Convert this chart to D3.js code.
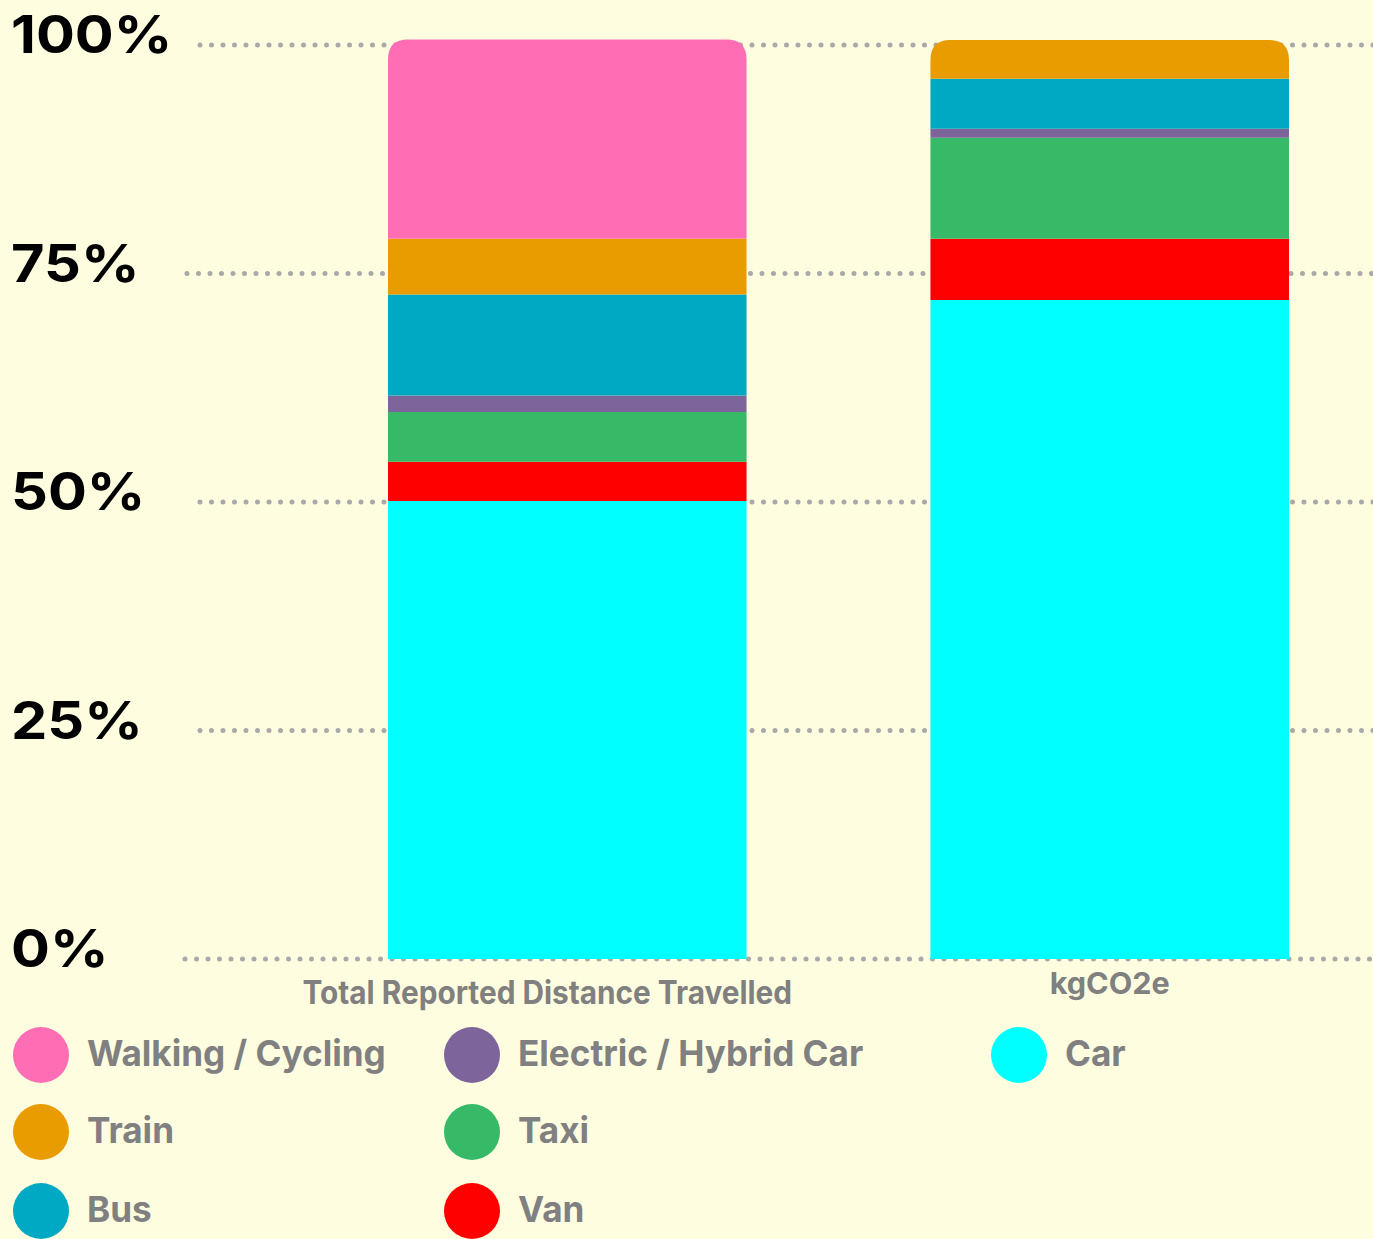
<!DOCTYPE html>
<html>
<head>
<meta charset="utf-8">
<script src="https://cdn.jsdelivr.net/npm/d3@7"></script>
<style>
  html, body { margin: 0; padding: 0; background: #FFFDE0; }
  svg { display: block; }
</style>
</head>
<body>
<svg id="chart" width="1373" height="1239"></svg>
<script>
// categories on the x axis
const categories = ["Total Reported Distance Travelled", "kgCO2e"];

// stack order, bottom to top
const seriesNames = ["Car", "Van", "Taxi", "Electric / Hybrid Car", "Bus", "Train", "Walking / Cycling"];

// percentage share of each mode, per category
const carValues      = [50.1, 72.1];
const vanValues      = [4.3, 6.7];
const taxiValues     = [5.45, 11.05];
const electricValues = [1.8, 1.0];
const busValues      = [11.05, 5.45];
const trainValues    = [6.1, 4.25];
const walkingValues  = [21.8, 0];

const yTicks = [0, 25, 50, 75, 100];

// legend order (column by column)
const legendOrder = ["Walking / Cycling", "Train", "Bus", "Electric / Hybrid Car", "Taxi", "Van", "Car"];

const colors = {
    "Car": "#00FFFF",
    "Van": "#FF0000",
    "Taxi": "#37BA67",
    "Electric / Hybrid Car": "#7D659C",
    "Bus": "#00A9C3",
    "Train": "#E99C00",
    "Walking / Cycling": "#FF6EB4"
};

const valuesBySeries = {
    "Car": carValues,
    "Van": vanValues,
    "Taxi": taxiValues,
    "Electric / Hybrid Car": electricValues,
    "Bus": busValues,
    "Train": trainValues,
    "Walking / Cycling": walkingValues
};

const data = categories.map((c, i) => {
    const row = { category: c };
    seriesNames.forEach(s => row[s] = valuesBySeries[s][i]);
    return row;
});

const svg = d3.select("#chart");
const W = 1373;

svg.append("rect").attr("width", W).attr("height", 1239).attr("fill", "#FFFDE0");

const y = d3.scaleLinear().domain([0, 100]).range([959, 45]);
const x = d3.scaleBand().domain(categories).range([388, 1289]).paddingInner(0.339).paddingOuter(0);

// dotted gridlines
const gridStart = { 0: 185, 25: 200, 50: 200, 75: 187, 100: 200 };
svg.append("g")
    .selectAll("line")
    .data(yTicks)
    .join("line")
    .attr("x1", d => gridStart[d])
    .attr("x2", W + 5)
    .attr("y1", d => y(d))
    .attr("y2", d => y(d))
    .attr("stroke", "#A9A9A9")
    .attr("stroke-width", 5)
    .attr("stroke-linecap", "round")
    .attr("stroke-dasharray", "0 11.5");

// y tick labels
svg.append("g")
    .selectAll("text")
    .data(yTicks)
    .join("text")
    .attr("transform", d => `translate(11,${y(d) + 8}) scale(1.11,1)`)
    .attr("font-family", "Inter, 'DejaVu Sans', sans-serif")
    .attr("font-weight", 700)
    .attr("font-size", 52)
    .attr("fill", "#000")
    .text(d => d + "%");

// stacked bars
const stacked = d3.stack().keys(seriesNames)(data);
const radius = 20;

// find top non-empty segment per category so it gets the rounded cap
const topKey = {};
data.forEach(row => {
    seriesNames.forEach(s => { if (row[s] > 0) topKey[row.category] = s; });
});

function segPath(x0, w, yTop, yBot, rounded) {
    if (!rounded) return `M${x0},${yBot}V${yTop}H${x0 + w}V${yBot}Z`;
    const r = Math.min(radius, (yBot - yTop));
    return `M${x0},${yBot}V${yTop + r}Q${x0},${yTop} ${x0 + r},${yTop}` +
           `H${x0 + w - r}Q${x0 + w},${yTop} ${x0 + w},${yTop + r}V${yBot}Z`;
}

const bars = svg.append("g");
stacked.forEach(layer => {
    bars.append("g")
        .attr("fill", colors[layer.key])
        .selectAll("path")
        .data(layer.filter(d => d[1] - d[0] > 0))
        .join("path")
        .attr("d", d => segPath(
            x(d.data.category), x.bandwidth(),
            y(d[1]), y(d[0]),
            topKey[d.data.category] === layer.key));
});

// x labels
const xLabelStyle = {
    "Total Reported Distance Travelled": { dx: -20, dy: 1004, size: 32, squeeze: 0.93 },
    "kgCO2e": { dx: 0, dy: 994, size: 30, squeeze: 1.02 }
};
svg.append("g")
    .selectAll("text")
    .data(categories)
    .join("text")
    .attr("transform", d => {
        const s = xLabelStyle[d];
        return `translate(${x(d) + x.bandwidth() / 2 + s.dx},${s.dy}) scale(${s.squeeze},1)`;
    })
    .attr("text-anchor", "middle")
    .attr("font-family", "Inter, 'DejaVu Sans', sans-serif")
    .attr("font-weight", 700)
    .attr("font-size", d => xLabelStyle[d].size)
    .attr("fill", "#808080")
    .text(d => d);

// legend
const legendCols = [41, 472, 1019];
const legendRows = [1055, 1132, 1211];
const legend = svg.append("g");
legendOrder.forEach((name, i) => {
    const cx = legendCols[Math.floor(i / 3)];
    const cy = legendRows[i % 3];
    legend.append("circle")
        .attr("cx", cx)
        .attr("cy", cy)
        .attr("r", 28)
        .attr("fill", colors[name]);
    legend.append("text")
        .attr("transform", `translate(${cx + 46},${cy + 11}) scale(0.975,1)`)
        .attr("font-family", "Inter, 'DejaVu Sans', sans-serif")
        .attr("font-weight", 700)
        .attr("font-size", 36)
        .attr("fill", "#808080")
        .text(name);
});
</script>
</body>
</html>
